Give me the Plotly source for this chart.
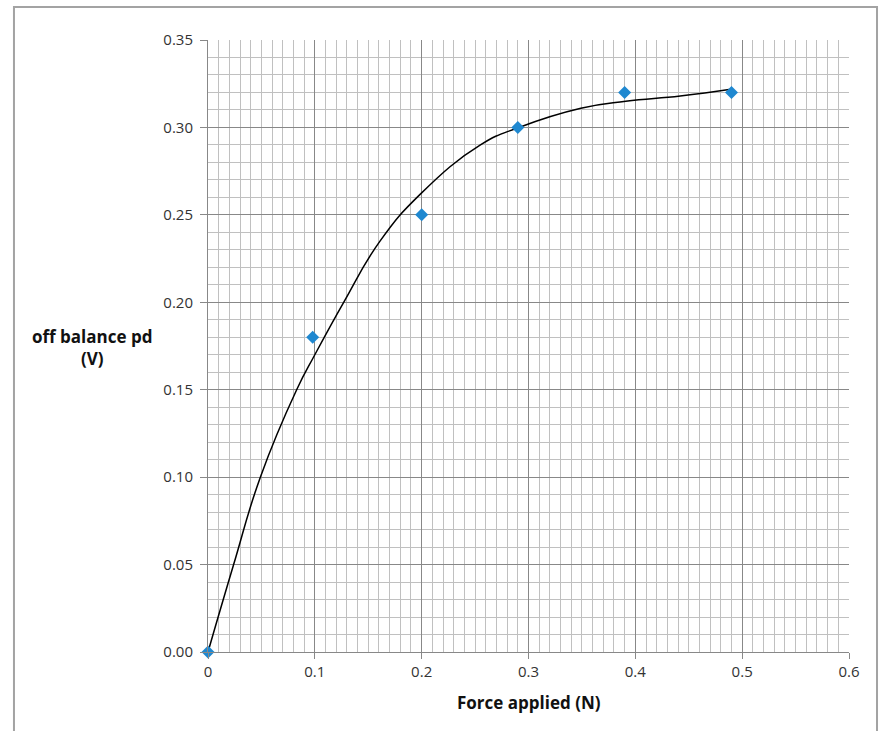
import plotly.graph_objects as go

# measured data points
force = [0.0, 0.098, 0.2, 0.29, 0.39, 0.49]
pd_volts = [0.0, 0.18, 0.25, 0.30, 0.32, 0.32]

# trend curve
curve_x = [0.0, 0.024, 0.049, 0.083, 0.100, 0.127, 0.161, 0.199, 0.255, 0.291, 0.349, 0.391, 0.442, 0.491]
curve_y = [0.0, 0.050, 0.100, 0.150, 0.170, 0.200, 0.235, 0.262, 0.290, 0.300, 0.311, 0.315, 0.318, 0.322]

x_ticks = [0, 0.1, 0.2, 0.3, 0.4, 0.5, 0.6]
y_ticks = [0, 0.05, 0.10, 0.15, 0.20, 0.25, 0.30, 0.35]

fig = go.Figure()
fig.add_trace(go.Scatter(x=curve_x, y=curve_y, mode="lines",
                         line=dict(color="black", width=1.5, shape="spline", smoothing=1.3),
                         hoverinfo="skip", showlegend=False))
fig.add_trace(go.Scatter(x=force, y=pd_volts, mode="markers",
                         marker=dict(symbol="diamond", size=10, color="#1f88d0"),
                         showlegend=False, cliponaxis=False))

font_family = "Open Sans, Noto Sans, sans-serif"
minor_col = "#c0c0c0"
major_col = "#888888"

fig.update_xaxes(range=[0, 0.6], tickvals=x_ticks, ticktext=[f"{v:g}" for v in x_ticks],
                 showgrid=True, gridcolor=major_col, gridwidth=1,
                 minor=dict(dtick=0.01, showgrid=True, gridcolor=minor_col, gridwidth=1),
                 ticks="outside", ticklen=6, tickcolor=major_col,
                 showline=True, linecolor=major_col, linewidth=1, zeroline=False,
                 tickfont=dict(family=font_family, size=15, color="#333"))
fig.update_yaxes(range=[0, 0.35], tickvals=y_ticks, tickformat=".2f",
                 showgrid=True, gridcolor=major_col, gridwidth=1,
                 minor=dict(dtick=0.01, showgrid=True, gridcolor=minor_col, gridwidth=1),
                 ticks="outside", ticklen=7, tickcolor=major_col,
                 showline=True, linecolor=major_col, linewidth=1, zeroline=False,
                 ticklabelstandoff=4,
                 tickfont=dict(family=font_family, size=15, color="#333"))

fig.add_annotation(text="<b>off balance pd<br>(V)</b>", xref="paper", yref="paper",
                   x=-0.181, y=0.498, xanchor="center", yanchor="middle",
                   showarrow=False, align="center",
                   font=dict(family=font_family, size=17, color="#111"))
fig.add_annotation(text="<b>Force applied (N)</b>", xref="paper", yref="paper",
                   x=0.5, y=-0.082, xanchor="center", yanchor="middle", showarrow=False,
                   font=dict(family=font_family, size=17, color="#111"))

# outer frame
fig.add_shape(type="rect", xref="paper", yref="paper",
              x0=-0.3027, x1=1.0437, y0=-0.16, y1=1.0539,
              line=dict(color="#a3a3a3", width=2), layer="below")

fig.update_layout(width=879, height=731, margin=dict(l=208, r=30, t=40, b=79),
                  paper_bgcolor="white", plot_bgcolor="white", showlegend=False)

fig.write_html("out.html")
